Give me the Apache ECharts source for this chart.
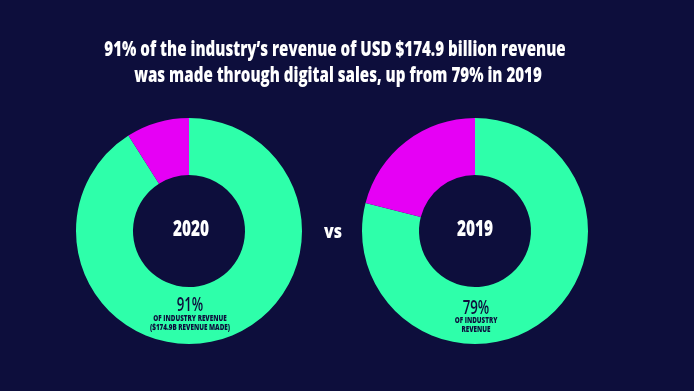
<!DOCTYPE html>
<html>
<head>
<meta charset="utf-8">
<script src="https://cdn.jsdelivr.net/npm/echarts@6/dist/echarts.min.js"></script>
<style>
html,body{margin:0;padding:0;background:#0d0e3c;}
#chart{width:694px;height:391px;}
</style>
</head>
<body>
<div id="chart"></div>
<script>
var categories = ['Digital sales', 'Other'];
var values2020 = [91, 9];
var values2019 = [79, 21];
var years = ['2020', '2019'];
var titleLines = ['91% of the industry\u2019s revenue of USD $174.9 billion revenue', 'was made through digital sales, up from 79% in 2019'];

var BG = '#0d0e3c', GREEN = '#2effaa', MAGENTA = '#e600f5';
var FONT = "'Open Sans', 'Roboto', sans-serif";

function pieData(vals) {
  return vals.map(function (v, i) {
    return { name: categories[i], value: v, itemStyle: { color: i === 0 ? GREEN : MAGENTA } };
  });
}
function pieSeries(vals, cx) {
  return {
    type: 'pie', center: [cx, 231], radius: [56, 113], startAngle: 90, clockwise: true,
    silent: true, label: { show: false }, labelLine: { show: false },
    itemStyle: { borderWidth: 0 }, emphasis: { disabled: true },
    data: pieData(vals)
  };
}
function txt(x, y, s, size, color, weight, sx, sy) {
  return { type: 'text', x: x, y: y, z: 100, zlevel: 1, scaleX: sx || 0.75, scaleY: sy || 1,
    style: { text: s, fill: color, font: (weight || 'bold') + ' ' + size + 'px ' + FONT, textAlign: 'center', textVerticalAlign: 'middle' } };
}

var chart = echarts.init(document.getElementById('chart'), null, { renderer: 'canvas' });
chart.setOption({
  backgroundColor: BG,
  animation: false,
  series: [pieSeries(values2020, 189), pieSeries(values2019, 475)],
  graphic: [
    txt(335, 50, titleLines[0], 21, '#ffffff', '800', 0.72),
    txt(338, 76, titleLines[1], 21, '#ffffff', '800', 0.72),
    txt(191, 230, years[0], 22, '#ffffff', '800', 0.7),
    txt(475, 230, years[1], 22, '#ffffff', '800', 0.7),
    txt(333, 232, 'vs', 20, '#ffffff', '800', 0.8),
    txt(190, 305, values2020[0] + '%', 20, BG, '600', 0.66),
    txt(190, 318, 'OF INDUSTRY REVENUE', 9, BG, '800', 0.7),
    txt(190, 327, '($174.9B REVENUE MADE)', 9, BG, '800', 0.7),
    txt(476, 308, values2019[0] + '%', 20, BG, '600', 0.66),
    txt(476, 320, 'OF INDUSTRY', 9, BG, '800', 0.7),
    txt(476, 329, 'REVENUE', 9, BG, '800', 0.7)
  ]
});
</script>
</body>
</html>
